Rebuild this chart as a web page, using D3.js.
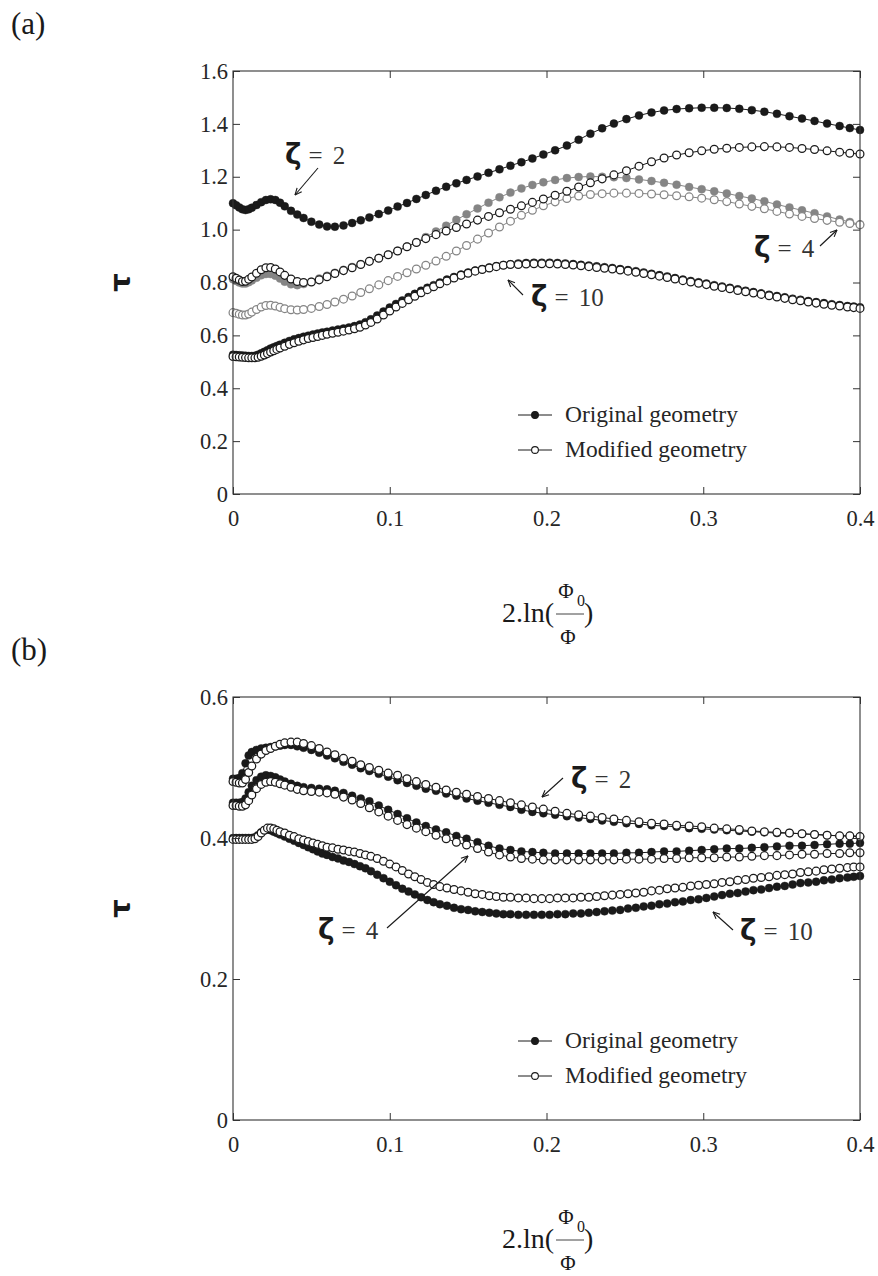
<!DOCTYPE html>
<html>
<head>
<meta charset="utf-8">
<script src="https://cdn.jsdelivr.net/npm/d3@7"></script>
<style>
  html, body { margin: 0; padding: 0; background: #fff; }
  svg { display: block; }
</style>
</head>
<body>
<svg id="fig" width="878" height="1276"></svg>
<script>
// ---- sample positions, 2.ln(Phi0/Phi) ----
const xGridA = [0, 0.002, 0.004, 0.006, 0.008, 0.010, 0.012, 0.015, 0.018, 0.021,
  0.024, 0.027, 0.030, 0.033, 0.037, 0.041, 0.045, 0.050, 0.055, 0.060,
  0.065, 0.0705, 0.076, 0.0815, 0.087, 0.093, 0.099, 0.105, 0.111, 0.117,
  0.123, 0.1295, 0.136, 0.1425, 0.149, 0.156, 0.163, 0.170, 0.177, 0.184,
  0.191, 0.198, 0.2055, 0.213, 0.2205, 0.228, 0.2355, 0.243, 0.251, 0.259,
  0.267, 0.275, 0.283, 0.291, 0.299, 0.307, 0.315, 0.323, 0.331, 0.339,
  0.347, 0.355, 0.363, 0.371, 0.379, 0.387, 0.3935, 0.400];

const xGridB = [0, 0.002, 0.004, 0.006, 0.008, 0.010, 0.012, 0.014, 0.016, 0.018,
  0.020, 0.022, 0.024, 0.026, 0.028, 0.030, 0.033, 0.036, 0.039, 0.042,
  0.045, 0.048, 0.051, 0.054, 0.057, 0.060, 0.0635, 0.067, 0.0705, 0.074,
  0.0775, 0.081, 0.0845, 0.088, 0.092, 0.096, 0.100, 0.104, 0.108, 0.112,
  0.116, 0.120, 0.124, 0.128, 0.132, 0.1365, 0.141, 0.1455, 0.150, 0.1545,
  0.159, 0.1635, 0.168, 0.1725, 0.177, 0.182, 0.187, 0.192, 0.197, 0.202,
  0.207, 0.212, 0.217, 0.222, 0.227, 0.232, 0.237, 0.242, 0.247, 0.252,
  0.257, 0.262, 0.267, 0.272, 0.277, 0.282, 0.287, 0.292, 0.297, 0.302,
  0.307, 0.312, 0.317, 0.322, 0.327, 0.332, 0.337, 0.342, 0.347, 0.352,
  0.357, 0.362, 0.367, 0.372, 0.377, 0.382, 0.387, 0.392, 0.396, 0.400];

// ---- panel (a): tau ----
const topZeta2Original = [1.100, 1.092, 1.084, 1.077, 1.074, 1.077, 1.083, 1.093, 1.104, 1.112,
  1.115, 1.112, 1.102, 1.088, 1.071, 1.057, 1.044, 1.030, 1.019, 1.012,
  1.011, 1.016, 1.025, 1.035, 1.046, 1.059, 1.072, 1.087, 1.101, 1.116,
  1.131, 1.147, 1.162, 1.175, 1.188, 1.201, 1.215, 1.228, 1.242, 1.255,
  1.269, 1.284, 1.300, 1.318, 1.340, 1.363, 1.383, 1.401, 1.418, 1.432,
  1.443, 1.451, 1.456, 1.459, 1.461, 1.461, 1.460, 1.457, 1.452, 1.446,
  1.438, 1.429, 1.420, 1.411, 1.401, 1.392, 1.384, 1.377];

const topZeta2Modified = [0.822, 0.816, 0.809, 0.804, 0.805, 0.812, 0.821, 0.835, 0.848, 0.856,
  0.857, 0.851, 0.840, 0.827, 0.813, 0.804, 0.800, 0.802, 0.810, 0.822,
  0.834, 0.845, 0.856, 0.868, 0.880, 0.892, 0.905, 0.919, 0.935, 0.951,
  0.966, 0.981, 0.995, 1.008, 1.021, 1.036, 1.050, 1.064, 1.077, 1.090,
  1.103, 1.116, 1.130, 1.145, 1.161, 1.177, 1.192, 1.207, 1.223, 1.240,
  1.257, 1.271, 1.282, 1.291, 1.298, 1.304, 1.308, 1.311, 1.313, 1.314,
  1.313, 1.311, 1.307, 1.303, 1.298, 1.293, 1.289, 1.286];

const topZeta4Original = [0.812, 0.806, 0.800, 0.796, 0.796, 0.801, 0.808, 0.818, 0.827, 0.832,
  0.832, 0.826, 0.815, 0.803, 0.793, 0.790, 0.794, 0.803, 0.815, 0.826,
  0.837, 0.848, 0.859, 0.870, 0.881, 0.893, 0.906, 0.920, 0.936, 0.953,
  0.972, 0.993, 1.015, 1.037, 1.058, 1.080, 1.102, 1.122, 1.140, 1.156,
  1.169, 1.179, 1.188, 1.195, 1.199, 1.201, 1.200, 1.198, 1.195, 1.190,
  1.184, 1.177, 1.170, 1.161, 1.153, 1.145, 1.137, 1.127, 1.118, 1.107,
  1.095, 1.084, 1.073, 1.062, 1.050, 1.038, 1.029, 1.020];

const topZeta4Modified = [0.686, 0.684, 0.680, 0.677, 0.677, 0.681, 0.688, 0.698, 0.707, 0.713,
  0.714, 0.711, 0.706, 0.701, 0.697, 0.696, 0.698, 0.702, 0.709, 0.717,
  0.726, 0.737, 0.749, 0.762, 0.776, 0.791, 0.807, 0.823, 0.837, 0.851,
  0.865, 0.881, 0.899, 0.919, 0.940, 0.964, 0.987, 1.010, 1.032, 1.054,
  1.073, 1.090, 1.105, 1.118, 1.127, 1.133, 1.136, 1.138, 1.138, 1.137,
  1.135, 1.132, 1.128, 1.124, 1.119, 1.113, 1.106, 1.097, 1.088, 1.079,
  1.069, 1.059, 1.050, 1.042, 1.035, 1.028, 1.023, 1.018];

const topZeta10Original = [0.527, 0.526, 0.525, 0.524, 0.523, 0.522, 0.522, 0.523, 0.527, 0.532,
  0.538, 0.544, 0.550, 0.555, 0.560, 0.565, 0.572, 0.579, 0.585, 0.590,
  0.595, 0.599, 0.603, 0.607, 0.611, 0.614, 0.618, 0.622, 0.626, 0.630,
  0.635, 0.641, 0.650, 0.661, 0.675, 0.690, 0.705, 0.719, 0.732, 0.745,
  0.757, 0.769, 0.780, 0.790, 0.800, 0.811, 0.821, 0.830, 0.838, 0.845,
  0.851, 0.857, 0.862, 0.866, 0.869, 0.872, 0.874, 0.875, 0.875, 0.875,
  0.874, 0.872, 0.870, 0.867, 0.864, 0.861, 0.858, 0.855, 0.851, 0.847,
  0.843, 0.838, 0.833, 0.828, 0.823, 0.817, 0.811, 0.806, 0.801, 0.796,
  0.790, 0.785, 0.780, 0.774, 0.769, 0.764, 0.759, 0.754, 0.749, 0.744,
  0.739, 0.735, 0.730, 0.726, 0.722, 0.718, 0.715, 0.711, 0.709, 0.706];

const topZeta10Modified = [0.520, 0.519, 0.518, 0.517, 0.516, 0.515, 0.515, 0.515, 0.517, 0.521,
  0.526, 0.531, 0.537, 0.542, 0.547, 0.552, 0.559, 0.566, 0.572, 0.578,
  0.583, 0.588, 0.592, 0.596, 0.600, 0.604, 0.608, 0.612, 0.616, 0.620,
  0.625, 0.631, 0.639, 0.649, 0.662, 0.677, 0.692, 0.707, 0.721, 0.735,
  0.748, 0.761, 0.773, 0.784, 0.795, 0.806, 0.817, 0.827, 0.835, 0.843,
  0.849, 0.855, 0.860, 0.865, 0.868, 0.868, 0.870, 0.871, 0.871, 0.871,
  0.870, 0.868, 0.866, 0.863, 0.860, 0.857, 0.854, 0.851, 0.847, 0.843,
  0.839, 0.834, 0.829, 0.824, 0.819, 0.813, 0.807, 0.802, 0.797, 0.792,
  0.786, 0.781, 0.776, 0.770, 0.765, 0.760, 0.755, 0.750, 0.745, 0.740,
  0.735, 0.731, 0.726, 0.722, 0.718, 0.714, 0.711, 0.707, 0.705, 0.702];

// ---- panel (b): tau ----
const bottomZeta2Original = [0.484, 0.484, 0.485, 0.492, 0.506, 0.517, 0.522, 0.525, 0.527, 0.528,
  0.529, 0.530, 0.531, 0.532, 0.532, 0.530, 0.528, 0.525, 0.521, 0.517,
  0.513, 0.508, 0.504, 0.499, 0.495, 0.491, 0.487, 0.482, 0.478, 0.474,
  0.470, 0.467, 0.463, 0.460, 0.456, 0.453, 0.450, 0.447, 0.444, 0.440,
  0.437, 0.435, 0.433, 0.431, 0.429, 0.427, 0.425, 0.423, 0.421, 0.420,
  0.418, 0.417, 0.416, 0.414, 0.413, 0.412, 0.411, 0.410, 0.409, 0.408,
  0.407, 0.407, 0.406, 0.405, 0.404, 0.403, 0.403, 0.402];

const bottomZeta2Modified = [0.480, 0.479, 0.478, 0.478, 0.483, 0.493, 0.502, 0.512, 0.519, 0.524,
  0.527, 0.530, 0.533, 0.535, 0.536, 0.536, 0.534, 0.531, 0.527, 0.522,
  0.518, 0.513, 0.509, 0.504, 0.500, 0.496, 0.492, 0.489, 0.484, 0.480,
  0.476, 0.472, 0.468, 0.465, 0.462, 0.459, 0.456, 0.453, 0.450, 0.447,
  0.444, 0.441, 0.438, 0.435, 0.433, 0.431, 0.429, 0.427, 0.425, 0.423,
  0.421, 0.420, 0.418, 0.417, 0.416, 0.414, 0.413, 0.412, 0.410, 0.409,
  0.408, 0.407, 0.406, 0.405, 0.404, 0.403, 0.403, 0.402];

const bottomZeta4Original = [0.450, 0.450, 0.450, 0.451, 0.456, 0.465, 0.474, 0.482, 0.487, 0.489,
  0.488, 0.486, 0.483, 0.480, 0.477, 0.474, 0.472, 0.471, 0.470, 0.469,
  0.467, 0.464, 0.460, 0.456, 0.452, 0.446, 0.440, 0.434, 0.428, 0.422,
  0.417, 0.412, 0.408, 0.403, 0.399, 0.394, 0.389, 0.385, 0.383, 0.381,
  0.380, 0.379, 0.378, 0.378, 0.378, 0.378, 0.378, 0.378, 0.379, 0.379,
  0.380, 0.381, 0.381, 0.382, 0.383, 0.384, 0.385, 0.385, 0.386, 0.387,
  0.388, 0.389, 0.389, 0.390, 0.391, 0.392, 0.392, 0.393];

const bottomZeta4Modified = [0.446, 0.446, 0.445, 0.445, 0.447, 0.453, 0.461, 0.470, 0.476, 0.479,
  0.480, 0.479, 0.477, 0.475, 0.472, 0.469, 0.467, 0.466, 0.465, 0.464,
  0.462, 0.458, 0.454, 0.449, 0.443, 0.437, 0.431, 0.425, 0.419, 0.414,
  0.409, 0.404, 0.399, 0.394, 0.390, 0.385, 0.380, 0.376, 0.373, 0.371,
  0.370, 0.369, 0.369, 0.369, 0.369, 0.369, 0.369, 0.369, 0.370, 0.370,
  0.370, 0.371, 0.371, 0.372, 0.372, 0.372, 0.373, 0.373, 0.374, 0.375,
  0.375, 0.376, 0.377, 0.377, 0.378, 0.378, 0.379, 0.379];

const bottomZeta10Original = [0.400, 0.400, 0.400, 0.400, 0.400, 0.400, 0.400, 0.401, 0.404, 0.408,
  0.411, 0.412, 0.411, 0.409, 0.407, 0.405, 0.402, 0.399, 0.396, 0.393,
  0.390, 0.387, 0.384, 0.381, 0.378, 0.376, 0.373, 0.371, 0.368, 0.366,
  0.363, 0.360, 0.357, 0.353, 0.348, 0.343, 0.338, 0.333, 0.328, 0.324,
  0.320, 0.316, 0.312, 0.309, 0.306, 0.304, 0.301, 0.299, 0.298, 0.296,
  0.295, 0.294, 0.293, 0.292, 0.292, 0.291, 0.291, 0.291, 0.291, 0.291,
  0.292, 0.292, 0.293, 0.293, 0.294, 0.295, 0.296, 0.297, 0.298, 0.300,
  0.301, 0.303, 0.304, 0.306, 0.307, 0.309, 0.310, 0.312, 0.313, 0.315,
  0.317, 0.319, 0.321, 0.322, 0.324, 0.326, 0.327, 0.329, 0.331, 0.332,
  0.334, 0.336, 0.337, 0.338, 0.340, 0.341, 0.343, 0.344, 0.345, 0.346];

const bottomZeta10Modified = [0.398, 0.398, 0.398, 0.398, 0.398, 0.398, 0.398, 0.399, 0.402, 0.407,
  0.411, 0.414, 0.414, 0.413, 0.411, 0.409, 0.407, 0.404, 0.402, 0.399,
  0.397, 0.395, 0.393, 0.391, 0.389, 0.387, 0.386, 0.384, 0.383, 0.381,
  0.380, 0.378, 0.376, 0.374, 0.371, 0.367, 0.363, 0.359, 0.354, 0.349,
  0.345, 0.341, 0.337, 0.334, 0.331, 0.329, 0.327, 0.325, 0.323, 0.321,
  0.320, 0.318, 0.317, 0.316, 0.316, 0.315, 0.315, 0.314, 0.314, 0.314,
  0.315, 0.315, 0.315, 0.316, 0.316, 0.317, 0.318, 0.319, 0.320, 0.321,
  0.322, 0.323, 0.325, 0.326, 0.328, 0.329, 0.330, 0.332, 0.333, 0.334,
  0.335, 0.337, 0.338, 0.340, 0.341, 0.343, 0.344, 0.345, 0.347, 0.348,
  0.349, 0.351, 0.352, 0.353, 0.355, 0.356, 0.357, 0.358, 0.359, 0.359];

// ---- ticks and labels ----
const xTicks = [0, 0.1, 0.2, 0.3, 0.4];
const xTickLabels = ["0", "0.1", "0.2", "0.3", "0.4"];
const topYTicks = [0, 0.2, 0.4, 0.6, 0.8, 1.0, 1.2, 1.4, 1.6];
const topYTickLabels = ["0", "0.2", "0.4", "0.6", "0.8", "1.0", "1.2", "1.4", "1.6"];
const bottomYTicks = [0, 0.2, 0.4, 0.6];
const bottomYTickLabels = ["0", "0.2", "0.4", "0.6"];
const legendLabels = ["Original geometry", "Modified geometry"];

// ---- drawing ----
const SERIF = '"Liberation Serif", "DejaVu Serif", serif';
const SANS = '"DejaVu Sans", sans-serif';
const INK = "#1a1a1a";
const GREY = "#858585";

const svg = d3.select("#fig");
const defs = svg.append("defs");
defs.append("marker")
  .attr("id", "arrowHead")
  .attr("viewBox", "0 0 10 10")
  .attr("refX", 9.5).attr("refY", 5)
  .attr("markerWidth", 8).attr("markerHeight", 8)
  .attr("markerUnits", "userSpaceOnUse")
  .attr("orient", "auto")
  .append("path")
  .attr("d", "M1,1.2 L9.5,5 L1,8.8")
  .attr("fill", "none").attr("stroke", INK).attr("stroke-width", 1.4);

const x = d3.scaleLinear().domain([0, 0.4]).range([233, 860]);

function drawPanel(p) {
  const y = d3.scaleLinear().domain(p.yDomain).range([p.bottom, p.top]);
  const g = svg.append("g");
  const left = x.range()[0], right = x.range()[1];

  // series: connecting line, then markers
  p.series.forEach(s => {
    const pts = s.xs.map((xv, i) => [xv, s.ys[i]]);
    g.append("path")
      .datum(pts)
      .attr("fill", "none")
      .attr("stroke", s.color)
      .attr("stroke-width", 1)
      .attr("d", d3.line().x(d => x(d[0])).y(d => y(d[1])));
    g.append("g").selectAll("circle")
      .data(pts)
      .join("circle")
      .attr("cx", d => x(d[0]))
      .attr("cy", d => y(d[1]))
      .attr("r", s.filled ? 4 : 3.9)
      .attr("fill", s.filled ? s.color : "#fff")
      .attr("stroke", s.color)
      .attr("stroke-width", s.filled ? 0.4 : 1.25);
  });

  // frame
  g.append("rect")
    .attr("x", left).attr("y", p.top)
    .attr("width", right - left).attr("height", p.bottom - p.top)
    .attr("fill", "none").attr("stroke", "#333").attr("stroke-width", 1.1);

  const styleAxis = sel => {
    sel.select(".domain").remove();
    sel.selectAll(".tick line").attr("stroke", "#333").attr("stroke-width", 1);
    sel.selectAll(".tick text")
      .attr("fill", "#262626")
      .style("font-family", SERIF)
      .style("font-size", "22.5px");
  };

  g.append("g").attr("transform", `translate(0,${p.bottom})`)
    .call(d3.axisBottom(x).tickValues(xTicks)
      .tickFormat((d, i) => xTickLabels[i])
      .tickSizeInner(-7).tickSizeOuter(0).tickPadding(16))
    .call(styleAxis);
  g.append("g").attr("transform", `translate(0,${p.top})`)
    .call(d3.axisTop(x).tickValues(xTicks).tickFormat("")
      .tickSizeInner(-7).tickSizeOuter(0))
    .call(styleAxis);
  g.append("g").attr("transform", `translate(${left},0)`)
    .call(d3.axisLeft(y).tickValues(p.yTicks)
      .tickFormat((d, i) => p.yTickLabels[i])
      .tickSizeInner(-7).tickSizeOuter(0).tickPadding(5))
    .call(styleAxis);
  g.append("g").attr("transform", `translate(${right},0)`)
    .call(d3.axisRight(y).tickValues(p.yTicks).tickFormat("")
      .tickSizeInner(-7).tickSizeOuter(0))
    .call(styleAxis);

  // panel tag
  g.append("text").attr("x", 11).attr("y", p.top - 37)
    .style("font-family", SERIF).style("font-size", "31px")
    .attr("fill", INK).text(p.tag);

  // y label: tau
  g.append("text")
    .attr("transform", `translate(120,${(p.top + p.bottom) / 2}) rotate(-90)`)
    .attr("text-anchor", "middle").attr("dominant-baseline", "central")
    .style("font-family", SANS).style("font-size", "29px").style("font-weight", "bold")
    .attr("fill", INK).text("τ");

  // x label: 2.ln(Phi0 / Phi)
  const lb = p.bottom + 128;
  const xl = g.append("g").attr("fill", INK).style("font-family", SERIF);
  xl.append("text").attr("x", 502).attr("y", lb).style("font-size", "28px").text("2.ln(");
  xl.append("text").attr("x", 566).attr("y", lb - 24).attr("text-anchor", "middle")
    .style("font-size", "21px").text("Φ");
  xl.append("text").attr("x", 577).attr("y", lb - 16).style("font-size", "16px").text("0");
  xl.append("line").attr("x1", 556).attr("x2", 584).attr("y1", lb - 8).attr("y2", lb - 8)
    .attr("stroke", "#444").attr("stroke-width", 1);
  xl.append("text").attr("x", 568).attr("y", lb + 22).attr("text-anchor", "middle")
    .style("font-size", "21px").text("Φ");
  xl.append("text").attr("x", 584).attr("y", lb).style("font-size", "28px").text(")");

  // legend
  const lg = g.append("g");
  legendLabels.forEach((lab, i) => {
    const ly = p.legendY + i * 35;
    lg.append("line").attr("x1", 518).attr("x2", 552).attr("y1", ly).attr("y2", ly)
      .attr("stroke", INK).attr("stroke-width", 1);
    lg.append("circle").attr("cx", 535).attr("cy", ly).attr("r", 3.4)
      .attr("fill", i === 0 ? INK : "#fff").attr("stroke", INK).attr("stroke-width", 1.1);
    lg.append("text").attr("x", 565).attr("y", ly + 7)
      .style("font-family", SERIF).style("font-size", "23.5px")
      .attr("fill", "#262626").text(lab);
  });

  // zeta annotations with arrows
  p.notes.forEach(n => {
    g.append("line")
      .attr("x1", n.from[0]).attr("y1", n.from[1])
      .attr("x2", n.to[0]).attr("y2", n.to[1])
      .attr("stroke", INK).attr("stroke-width", 1.1)
      .attr("marker-end", "url(#arrowHead)");
    const t = g.append("text").attr("x", n.tx).attr("y", n.ty).attr("fill", INK);
    t.append("tspan").style("font-family", SANS).style("font-weight", "bold")
      .style("font-size", "28px").text("ζ");
    t.append("tspan").attr("dx", 7).style("font-family", SERIF)
      .style("font-size", "25px").attr("fill", "#333").text("=");
    t.append("tspan").attr("dx", 10).style("font-family", SERIF)
      .style("font-size", "25px").attr("fill", "#333").text(n.value);
  });
}

drawPanel({
  tag: "(a)", top: 71, bottom: 494, yDomain: [0, 1.6],
  yTicks: topYTicks, yTickLabels: topYTickLabels,
  legendY: 415,
  series: [
    { xs: xGridA, ys: topZeta4Original, filled: true, color: GREY },
    { xs: xGridA, ys: topZeta4Modified, filled: false, color: GREY },
    { xs: xGridB, ys: topZeta10Original, filled: true, color: INK },
    { xs: xGridB, ys: topZeta10Modified, filled: false, color: INK },
    { xs: xGridA, ys: topZeta2Original, filled: true, color: INK },
    { xs: xGridA, ys: topZeta2Modified, filled: false, color: INK }
  ],
  notes: [
    { value: "2", tx: 285, ty: 164, from: [318, 168], to: [295, 195] },
    { value: "4", tx: 754, ty: 257, from: [820, 246], to: [837, 230] },
    { value: "10", tx: 531, ty: 306, from: [523, 295], to: [508, 280] }
  ]
});

drawPanel({
  tag: "(b)", top: 697, bottom: 1120, yDomain: [0, 0.6],
  yTicks: bottomYTicks, yTickLabels: bottomYTickLabels,
  legendY: 1041,
  series: [
    { xs: xGridA, ys: bottomZeta2Original, filled: true, color: INK },
    { xs: xGridA, ys: bottomZeta4Original, filled: true, color: INK },
    { xs: xGridB, ys: bottomZeta10Original, filled: true, color: INK },
    { xs: xGridA, ys: bottomZeta2Modified, filled: false, color: INK },
    { xs: xGridA, ys: bottomZeta4Modified, filled: false, color: INK },
    { xs: xGridB, ys: bottomZeta10Modified, filled: false, color: INK }
  ],
  notes: [
    { value: "2", tx: 571, ty: 788, from: [563, 778], to: [542, 797] },
    { value: "4", tx: 318, ty: 939, from: [387, 928], to: [468, 856] },
    { value: "10", tx: 740, ty: 940, from: [733, 930], to: [713, 912] }
  ]
});
</script>
</body>
</html>
